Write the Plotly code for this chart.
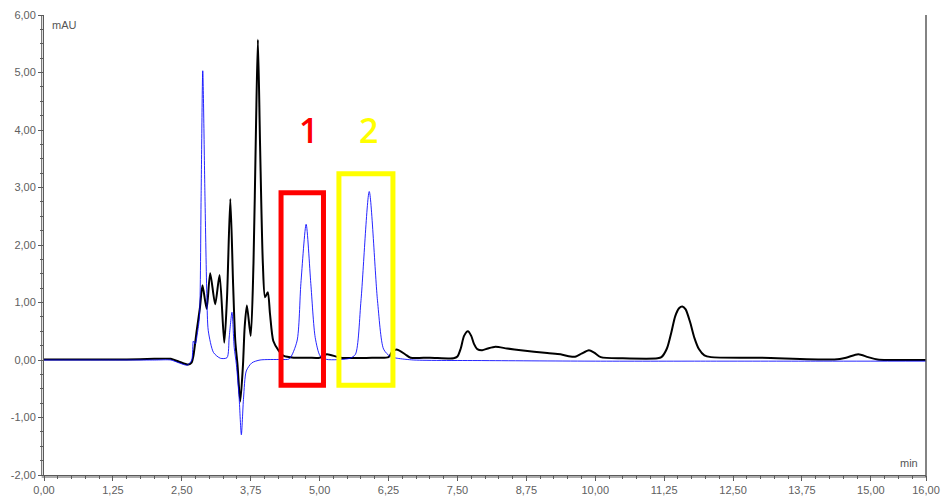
import plotly.graph_objects as go

# ---- data ----
black_t = [0.0, 0.5, 1.0, 1.5, 2.0, 2.3, 2.45, 2.62, 2.68, 2.71, 2.77, 2.83, 2.875, 2.95, 3.015,
           3.105, 3.185, 3.27, 3.32, 3.38, 3.43, 3.47, 3.51, 3.56, 3.61, 3.64, 3.68, 3.75,
           3.80, 3.845, 3.88, 3.92, 3.97, 4.01, 4.06, 4.10, 4.16, 4.26, 4.35, 4.53, 4.8,
           5.0, 5.13, 5.38, 6.0, 6.25, 6.32, 6.41, 6.55, 6.65, 7.0, 7.43, 7.50, 7.56, 7.62, 7.69,
           7.75, 7.80, 7.86, 7.95, 8.05, 8.19, 8.4, 8.65, 9.13, 9.37, 9.55, 9.65, 9.75, 9.885,
           9.98, 10.10, 10.5, 11.13, 11.20, 11.30, 11.38, 11.45, 11.52, 11.58, 11.64, 11.72,
           11.80, 11.88, 11.98, 12.10, 13.0, 14.34, 14.55, 14.77, 14.95, 15.12, 16.0]
black_v = [0.01, 0.01, 0.01, 0.01, 0.02, 0.02, -0.03, -0.08, -0.04, 0.07, 0.51, 0.92, 1.30, 0.89, 1.51,
           0.97, 1.48, 0.30, 1.09, 2.80, 1.33, 0.33, -0.08, -0.72, -0.08, 0.57, 0.95, 0.42,
           1.68, 4.01, 5.57, 3.72, 1.68, 1.09, 1.18, 0.80, 0.33, 0.16, 0.07, 0.04, 0.04,
           0.04, 0.10, 0.04, 0.04, 0.05, 0.15, 0.18, 0.10, 0.04, 0.04, 0.03, 0.06, 0.20, 0.42, 0.50,
           0.42, 0.28, 0.19, 0.17, 0.20, 0.23, 0.20, 0.17, 0.12, 0.10, 0.06, 0.06, 0.11, 0.17,
           0.13, 0.05, 0.03, 0.03, 0.05, 0.20, 0.48, 0.76, 0.90, 0.93, 0.88, 0.66,
           0.38, 0.19, 0.08, 0.05, 0.04, 0.01, 0.04, 0.10, 0.05, 0.01, 0.0]

blue_t = [0.0, 1.0, 2.0, 2.3, 2.45, 2.6, 2.68, 2.71, 2.745, 2.78, 2.82, 2.85, 2.88, 2.92,
          2.955, 2.98, 3.075, 3.20, 3.32, 3.36, 3.41, 3.45, 3.49, 3.54, 3.58, 3.62, 3.67,
          3.77, 3.92, 4.29, 4.45, 4.59, 4.66, 4.755, 4.84, 4.92, 5.01, 5.13, 5.55, 5.65,
          5.75, 5.90, 6.05, 6.16, 6.28, 6.41, 6.71, 8.0, 10.0, 12.0, 14.0, 16.0]
blue_v = [0.0, 0.0, 0.0, 0.0, -0.05, -0.09, 0.0, 0.33, 0.28, 0.45, 0.75, 2.84, 5.03, 2.84,
          1.09, 0.51, 0.13, 0.03, 0.04, 0.40, 0.83, 0.22, -0.08, -0.66, -1.30, -0.66, -0.19,
          -0.05, 0.0, 0.01, 0.02, 0.33, 1.33, 2.36, 1.33, 0.39, 0.07, 0.01, 0.03, 0.10,
          1.03, 2.93, 1.03, 0.19, 0.06, 0.03, 0.0, -0.01, -0.02, -0.02, -0.02, -0.02]

x_tickvals = [0, 1.25, 2.5, 3.75, 5, 6.25, 7.5, 8.75, 10, 11.25, 12.5, 13.75, 15, 16]
x_ticktext = ["0,00", "1,25", "2,50", "3,75", "5,00", "6,25", "7,50", "8,75", "10,00",
              "11,25", "12,50", "13,75", "15,00", "16,00"]
y_tickvals = [-2, -1, 0, 1, 2, 3, 4, 5, 6]
y_ticktext = ["-2,00", "-1,00", "0,00", "1,00", "2,00", "3,00", "4,00", "5,00", "6,00"]

box_labels = ["1", "2"]
box_x0 = [4.30, 5.35]
box_x1 = [5.07, 6.33]
box_y0 = [-0.44, -0.44]
box_y1 = [2.91, 3.24]
box_colors = ["#ff0000", "#ffff00"]
label_x = [4.80, 5.89]
label_y = [4.0, 4.0]

fig = go.Figure()
fig.add_trace(go.Scatter(x=black_t, y=black_v, mode="lines",
                         line=dict(color="#000000", width=2, shape="spline", smoothing=0.7),
                         showlegend=False, hoverinfo="skip"))
fig.add_trace(go.Scatter(x=blue_t, y=blue_v, mode="lines",
                         line=dict(color="rgba(0,0,255,0.85)", width=1, shape="spline", smoothing=0.7),
                         showlegend=False, hoverinfo="skip"))

for i in range(len(box_labels)):
    fig.add_shape(type="rect", xref="x", yref="y", x0=box_x0[i], x1=box_x1[i],
                  y0=box_y0[i], y1=box_y1[i], line=dict(color=box_colors[i], width=5),
                  fillcolor="rgba(0,0,0,0)")
    fig.add_annotation(x=label_x[i], y=label_y[i], xref="x", yref="y", text=box_labels[i],
                       showarrow=False,
                       font=dict(family="Open Sans", size=34, color=box_colors[i], weight=600))

axis_col = "#5a5a5a"
W, H = 941, 496
ml, mr, mt, mb = 44, 15, 15, 21
pw, ph = W - ml - mr, H - mt - mb

# double axis lines
fig.add_shape(type="line", xref="paper", yref="paper", x0=-2.3 / pw, x1=-2.3 / pw, y0=0, y1=1,
              line=dict(color=axis_col, width=1))
fig.add_shape(type="line", xref="paper", yref="paper", x0=-2.3 / pw, x1=1, y0=-2 / ph, y1=-2 / ph,
              line=dict(color=axis_col, width=1))
fig.add_shape(type="line", xref="paper", yref="paper", x0=1, x1=1, y0=-2 / ph, y1=1,
              line=dict(color=axis_col, width=1.5))

fig.add_annotation(x=6 / pw, y=1 - 10 / ph, xref="paper", yref="paper", text="mAU",
                   showarrow=False, xanchor="left", yanchor="middle",
                   font=dict(family="Liberation Sans", size=11, color="#555555"))
fig.add_annotation(x=1 - 6 / pw, y=12 / ph, xref="paper", yref="paper", text="min",
                   showarrow=False, xanchor="right", yanchor="middle",
                   font=dict(family="Liberation Sans", size=11, color="#555555"))

tickfont = dict(family="Liberation Sans", size=11, color="#606060")
fig.update_layout(
    width=W, height=H,
    margin=dict(l=ml, r=mr, t=mt, b=mb, autoexpand=False),
    paper_bgcolor="white", plot_bgcolor="white",
    xaxis=dict(range=[0, 16], tickvals=x_tickvals, ticktext=x_ticktext, tickfont=tickfont,
               automargin=False, ticklabelstandoff=0,
               showgrid=False, zeroline=False, showline=True, linecolor=axis_col, linewidth=1,
               ticks="outside", ticklen=5, tickcolor=axis_col,
               minor=dict(dtick=0.25, tick0=0, ticks="outside", ticklen=3, tickcolor=axis_col, showgrid=False)),
    yaxis=dict(range=[-2, 6], tickvals=y_tickvals, ticktext=y_ticktext, tickfont=tickfont,
               automargin=False,
               showgrid=False, zeroline=False, showline=True, linecolor=axis_col, linewidth=1,
               ticks="outside", ticklen=5, tickcolor=axis_col,
               minor=dict(dtick=0.25, tick0=0, ticks="outside", ticklen=3, tickcolor=axis_col, showgrid=False)),
)

fig.write_html("out.html")
